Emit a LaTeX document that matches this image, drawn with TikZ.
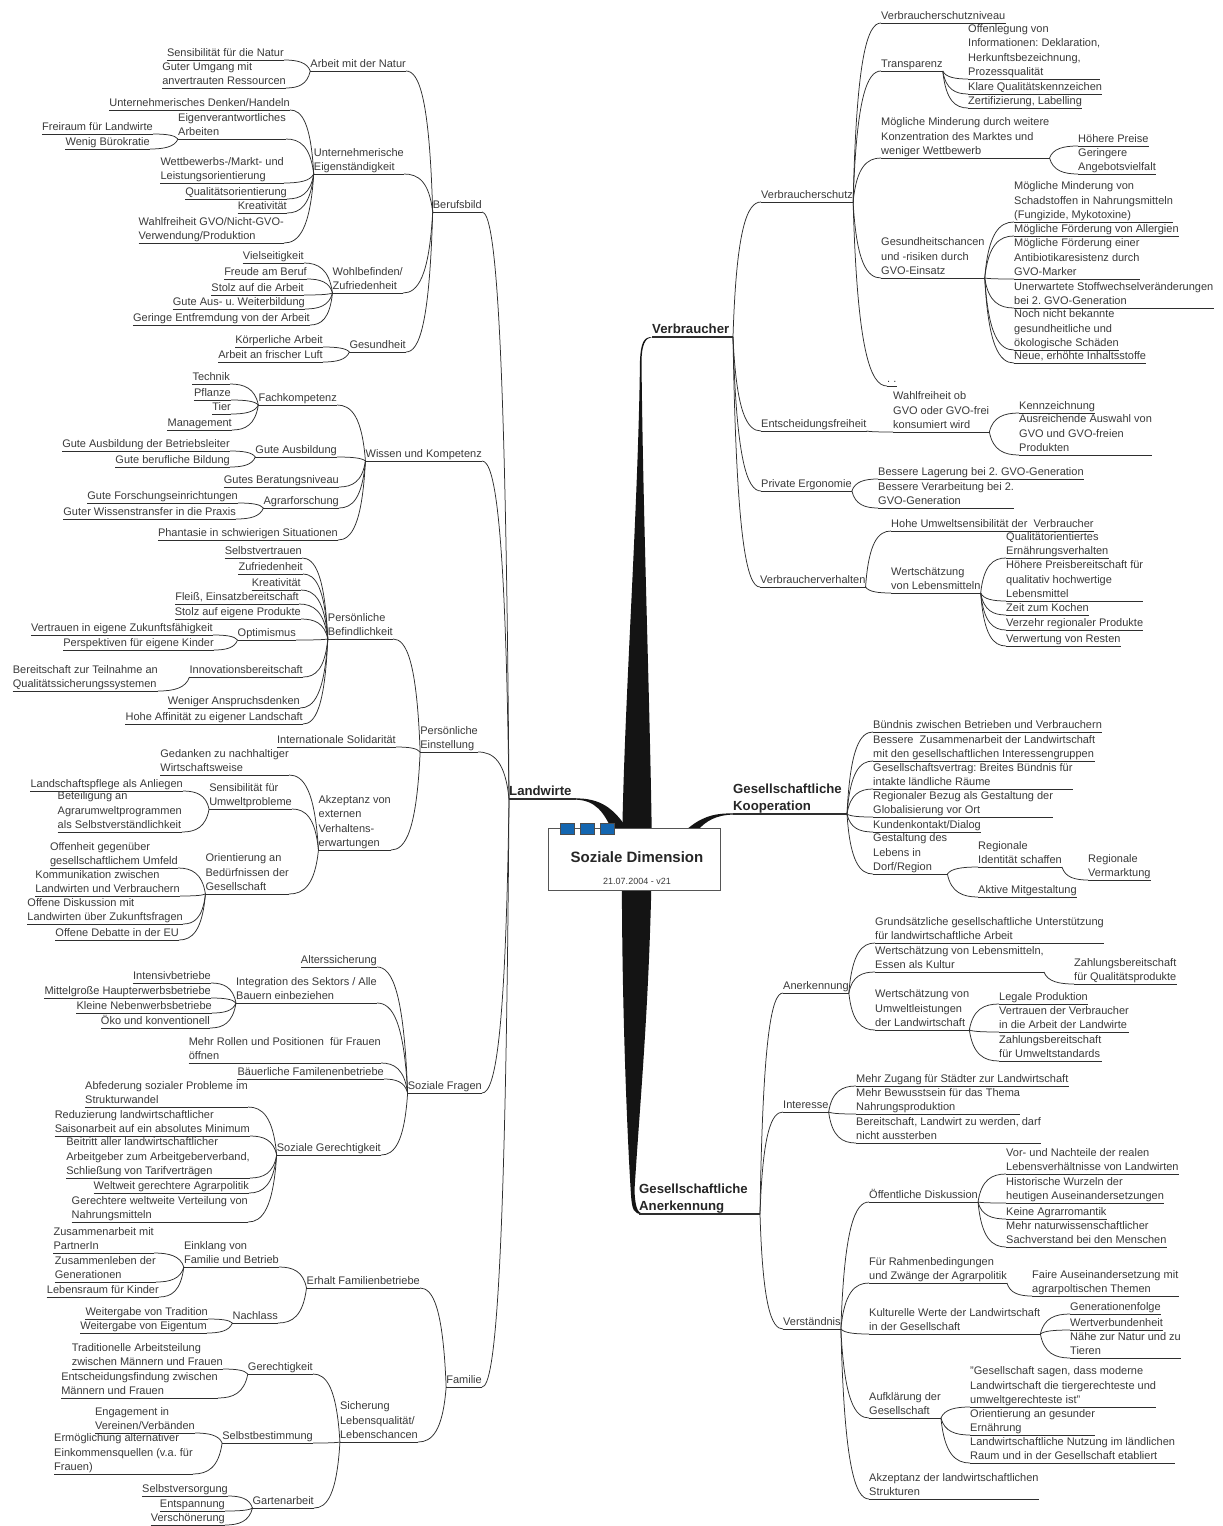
\documentclass[tikz,border=0pt]{standalone}
\usepackage{fontspec}
\setmainfont{Liberation Sans}
\usetikzlibrary{calc}
\frenchspacing
\definecolor{txt}{HTML}{3A3A3A}
\definecolor{lc}{HTML}{2E2E2E}
\definecolor{trunkc}{HTML}{141414}
\definecolor{sqblue}{HTML}{1466B0}
\definecolor{boxc}{HTML}{555555}
\newcommand\mmfont{\fontsize{11}{14.5}\selectfont}
\newcommand\mmmain{\fontsize{13.2}{17.5}\selectfont\bfseries}
\tikzset{
  rn/.style={anchor=south west, align=left, inner sep=0pt, text depth=3pt, font=\mmfont, text=txt},
  ln/.style={rn, anchor=south east},
  mainn/.style={anchor=south west, align=left, inner sep=0pt, text depth=3pt, font=\mmmain, text=black!85},
  uline/.style={draw=lc, line width=0.75pt},
  mline/.style={draw=lc, line width=1.1pt},
  cline/.style={draw=lc, line width=0.75pt},
  trunk/.style={fill=trunkc},
}
% topic with underline, text to the right / left of the anchor point
\newcommand\nR[4]{\node[rn] (#1) at (#2,#3) {#4}; \draw[uline] (#1.south west) -- (#1.south east);}
\newcommand\nL[4]{\node[ln] (#1) at (#2,#3) {#4}; \draw[uline] (#1.south west) -- (#1.south east);}
% curved connector: leaves the parent steeply, arrives level at the child
\newcommand\cc[2]{\draw[cline] let \p1=(#1), \p2=(#2) in (\p1) .. controls ({\x1+0.12*(\x2-\x1)},{\y1+0.8*(\y2-\y1)}) and ({0.5*(\x1+\x2)},\y2) .. (\p2);}
\newcommand\cR[2]{\foreach \ch in {#2} {\cc{#1.south east}{\ch.south west}}}
\newcommand\cL[2]{\foreach \ch in {#2} {\cc{#1.south west}{\ch.south east}}}
\newcommand\cP[2]{\foreach \ch in {#2} {\cc{#1}{\ch}}}

\begin{document}
\begin{tikzpicture}[x=1pt,y=-1pt]
\fill[white] (0,0) rectangle (1223,1526);
\useasboundingbox (0,0) rectangle (1223,1526);

% ---------- central trunk and thick main branches ----------
\fill[trunk] (652,337) .. controls (644,337) and (641,342) .. (640,360)
  .. controls (638,520) and (624,700) .. (622,850)
  .. controls (621,1000) and (628,1150) .. (631,1195)
  .. controls (632,1210) and (634,1214) .. (642,1214)
  .. controls (637,1212) and (635,1205) .. (634.5,1190)
  .. controls (640,1100) and (650,1000) .. (652,850)
  .. controls (650,700) and (643,520) .. (641.5,360)
  .. controls (642,345) and (645,338) .. (652,337) -- cycle;
\fill[trunk] (575,798.4) .. controls (600,798) and (614,808) .. (628,830)
  -- (612,830) .. controls (604,813) and (596,800) .. (575,799.6) -- cycle;
\fill[trunk] (733,813.4) .. controls (712,813) and (700,818) .. (686,830)
  -- (698,830) .. controls (706,821) and (716,815) .. (733,814.6) -- cycle;

% ---------- central topic ----------
\node[draw=boxc, fill=white, line width=0.9pt, minimum width=172pt, minimum height=62pt, inner sep=0pt] (cbox) at (634,859) {};
\foreach \x in {560,580,600} \draw[draw=black!70, fill=sqblue, line width=0.6pt] (\x,823) rectangle ++(14,11);
\node[font=\fontsize{15}{18}\selectfont\bfseries, text=black!85] (ctitle) at (637,857) {Soziale Dimension};
\node[font=\fontsize{9}{11}\selectfont, text=txt] (cdate) at (637,881) {21.07.2004 - v21};

% ---------- main topics ----------
\node[mainn] (lw) at (509,799) {Landwirte};
\draw[mline] (lw.south west) -- (576,799);
\node[mainn] (vb) at (652,337) {Verbraucher};
\coordinate (vbo) at (733,337);
\draw[mline] (vb.south west) -- (vbo);
\node[mainn] (gk) at (733,814) {Gesellschaftliche\\Kooperation};
\coordinate (gko) at (847,814);
\draw[mline] (gk.south west) -- (gko);
\node[mainn] (gan) at (639,1214) {Gesellschaftliche\\Anerkennung};
\coordinate (gano) at (760,1214);
\draw[mline] (gan.south west) -- (gano);

% ================= Landwirte =================
\nL{bb}{482}{212}{Berufsbild}
\nL{amn}{406}{71}{Arbeit mit der Natur}
\nL{snat}{284}{60}{Sensibilität für die Natur}
\nL{gum}{286}{88}{Guter Umgang mit\\anvertrauten Ressourcen}
\nL{ue}{404}{174}{Unternehmerische\\Eigenständigkeit}
\nL{udh}{290}{110}{Unternehmerisches Denken/Handeln}
\nL{eva}{286}{139}{Eigenverantwortliches\\Arbeiten}
\nL{frl}{153}{134}{Freiraum für Landwirte}
\nL{wbk}{150}{149}{Wenig Bürokratie}
\nL{wml}{284}{183}{Wettbewerbs-/Markt- und\\Leistungsorientierung}
\nL{qo}{287}{199}{Qualitätsorientierung}
\nL{kr1}{287}{213}{Kreativität}
\nL{wgvo}{284}{243}{Wahlfreiheit GVO/Nicht-GVO-\\Verwendung/Produktion}
\nL{wz}{403}{293}{Wohlbefinden/\\Zufriedenheit}
\nL{vs}{304}{263}{Vielseitigkeit}
\nL{fab}{307}{279}{Freude am Beruf}
\nL{sada}{304}{295}{Stolz auf die Arbeit}
\nL{gaw}{305}{309}{Gute Aus- u. Weiterbildung}
\nL{gev}{310}{325}{Geringe Entfremdung von der Arbeit}
\nL{ges}{406}{352}{Gesundheit}
\nL{ka}{323}{347}{Körperliche Arbeit}
\nL{afl}{323}{362}{Arbeit an frischer Luft}

\nL{wuk}{482}{461}{Wissen und Kompetenz}
\nL{fk}{337}{405}{Fachkompetenz}
\nL{tech}{230}{384}{Technik}
\nL{pfl}{231}{400}{Pflanze}
\nL{tier}{231}{414}{Tier}
\nL{mgmt}{232}{430}{Management}
\nL{ga}{337}{457}{Gute Ausbildung}
\nL{gab}{230}{451}{Gute Ausbildung der Betriebsleiter}
\nL{gbb}{230}{467}{Gute berufliche Bildung}
\nL{gbn}{339}{487}{Gutes Beratungsniveau}
\nL{af}{339}{508}{Agrarforschung}
\nL{gfe}{238}{503}{Gute Forschungseinrichtungen}
\nL{gwp}{236}{519}{Guter Wissenstransfer in die Praxis}
\nL{phs}{338}{540}{Phantasie in schwierigen Situationen}

\nL{pe}{478}{752}{Persönliche\\Einstellung}
\nL{pbf}{393}{639}{Persönliche\\Befindlichkeit}
\nL{sv}{302}{558}{Selbstvertrauen}
\nL{zuf}{303}{574}{Zufriedenheit}
\nL{kr2}{301}{590}{Kreativität}
\nL{fleiss}{299}{604}{Fleiß, Einsatzbereitschaft}
\nL{sep}{301}{619}{Stolz auf eigene Produkte}
\nL{opt}{296}{640}{Optimismus}
\nL{vez}{213}{635}{Vertrauen in eigene Zukunftsfähigkeit}
\nL{pek}{214}{650}{Perspektiven für eigene Kinder}
\nL{inno}{303}{677}{Innovationsbereitschaft}
\nL{btq}{158}{691}{Bereitschaft zur Teilnahme an\\Qualitätssicherungssystemen}
\nL{wad}{300}{708}{Weniger Anspruchsdenken}
\nL{hal}{303}{724}{Hohe Affinität zu eigener Landschaft}
\nL{isol}{396}{747}{Internationale Solidarität}
\nL{akz}{391}{850}{Akzeptanz von\\externen\\Verhaltens-\\erwartungen}
\nL{gnw}{289}{775}{Gedanken zu nachhaltiger\\Wirtschaftsweise}
\nL{sfu}{292}{809}{Sensibilität für\\Umweltprobleme}
\nL{lpa}{183}{791}{Landschaftspflege als Anliegen}
\nL{bag}{182}{832}{Beteiligung an\\Agrarumweltprogrammen\\als Selbstverständlichkeit}
\nL{obg}{289}{894}{Orientierung an\\Bedürfnissen der\\Gesellschaft}
\nL{ogu}{178}{868}{Offenheit gegenüber\\gesellschaftlichem Umfeld}
\nL{kzl}{180}{896}{Kommunikation zwischen\\Landwirten und Verbrauchern}
\nL{odl}{183}{924}{Offene Diskussion mit\\Landwirten über Zukunftsfragen}
\nL{ode}{179}{940}{Offene Debatte in der EU}

\nL{sf}{482}{1093}{Soziale Fragen}
\nL{alt}{377}{967}{Alterssicherung}
\nL{ids}{377}{1003}{Integration des Sektors / Alle\\Bauern einbeziehen}
\nL{intb}{211}{983}{Intensivbetriebe}
\nL{mhb}{211}{998}{Mittelgroße Haupterwerbsbetriebe}
\nL{knb}{212}{1013}{Kleine Nebenwerbsbetriebe}
\nL{oek}{210}{1028}{Öko und konventionell}
\nL{mrp}{381}{1063}{Mehr Rollen und Positionen~ für Frauen\\öffnen}
\nL{bfb}{384}{1079}{Bäuerliche Familenenbetriebe}
\nL{sg}{381}{1155}{Soziale Gerechtigkeit}
\nL{asp}{248}{1107}{Abfederung sozialer Probleme im\\Strukturwandel}
\nL{rls}{250}{1136}{Reduzierung landwirtschaftlicher\\Saisonarbeit auf ein absolutes Minimum}
\nL{bal}{250}{1178}{Beitritt aller landwirtschaftlicher\\Arbeitgeber zum Arbeitgeberverband,\\Schließung von Tarifverträgen}
\nL{wga}{249}{1193}{Weltweit gerechtere Agrarpolitik}
\nL{gwv}{248}{1222}{Gerechtere weltweite Verteilung von\\Nahrungsmitteln}

\nL{fam}{482}{1387}{Familie}
\nL{efb}{420}{1288}{Erhalt Familienbetriebe}
\nL{evfb}{279}{1267}{Einklang von\\Familie und Betrieb}
\nL{zmp}{154}{1253}{Zusammenarbeit mit\\PartnerIn}
\nL{zdg}{156}{1282}{Zusammenleben der\\Generationen}
\nL{lfk}{159}{1297}{Lebensraum für Kinder}
\nL{nl}{278}{1323}{Nachlass}
\nL{wvt}{208}{1319}{Weitergabe von Tradition}
\nL{wve}{207}{1333}{Weitergabe von Eigentum}
\nL{slq}{418}{1442}{Sicherung\\Lebensqualität/\\Lebenschancen}
\nL{ger}{313}{1374}{Gerechtigkeit}
\nL{tam}{223}{1369}{Traditionelle Arbeitsteilung\\zwischen Männern und Frauen}
\nL{ezm}{218}{1398}{Entscheidungsfindung zwischen\\Männern und Frauen}
\nL{sb}{313}{1443}{Selbstbestimmung}
\nL{eiv}{195}{1433}{Engagement in\\Vereinen/Verbänden}
\nL{eae}{193}{1474}{Ermöglichung alternativer\\Einkommensquellen (v.a. für\\Frauen)}
\nL{ga2}{314}{1508}{Gartenarbeit}
\nL{svs}{228}{1496}{Selbstversorgung}
\nL{ent}{225}{1511}{Entspannung}
\nL{vschoen}{225}{1525}{Verschönerung}

\cL{lw}{bb,wuk,pe,sf,fam}
\cL{bb}{amn,ue,wz,ges}
\cL{amn}{snat,gum}
\cL{ue}{udh,eva,wml,qo,kr1,wgvo}
\cL{eva}{frl,wbk}
\cL{wz}{vs,fab,sada,gaw,gev}
\cL{ges}{ka,afl}
\cL{wuk}{fk,ga,gbn,af,phs}
\cL{fk}{tech,pfl,tier,mgmt}
\cL{ga}{gab,gbb}
\cL{af}{gfe,gwp}
\cL{pe}{pbf,isol,akz}
\cL{pbf}{sv,zuf,kr2,fleiss,sep,opt,inno,wad,hal}
\cL{opt}{vez,pek}
\cL{inno}{btq}
\cL{akz}{gnw,sfu,obg}
\cL{sfu}{lpa,bag}
\cL{obg}{ogu,kzl,odl,ode}
\cL{sf}{alt,ids,mrp,bfb,sg}
\cL{ids}{intb,mhb,knb,oek}
\cL{sg}{asp,rls,bal,wga,gwv}
\cL{fam}{efb,slq}
\cL{efb}{evfb,nl}
\cL{evfb}{zmp,zdg,lfk}
\cL{nl}{wvt,wve}
\cL{slq}{ger,sb,ga2}
\cL{ger}{tam,ezm}
\cL{sb}{eiv,eae}
\cL{ga2}{svs,ent,vschoen}

% ================= Verbraucher =================
\nR{vs1}{761}{202}{Verbraucherschutz}
\nR{vsn}{881}{23}{Verbraucherschutzniveau}
\nR{tr}{881}{71}{Transparenz}
\nR{ovi}{968}{79}{Offenlegung von\\Informationen: Deklaration,\\Herkunftsbezeichnung,\\Prozessqualität}
\nR{kqk}{968}{94}{Klare Qualitätskennzeichen}
\nR{zl}{968}{108}{Zertifizierung, Labelling}
\nR{mmk}{881}{158}{Mögliche Minderung durch weitere\\Konzentration des Marktes und\\weniger Wettbewerb}
\nR{hp}{1078}{146}{Höhere Preise}
\nR{gav}{1078}{174}{Geringere\\Angebotsvielfalt}
\nR{grg}{881}{278}{Gesundheitschancen\\und -risiken durch\\GVO-Einsatz}
\nR{mms}{1014}{222}{Mögliche Minderung von\\Schadstoffen in Nahrungsmitteln\\(Fungizide, Mykotoxine)}
\nR{mfa}{1014}{236}{Mögliche Förderung von Allergien}
\nR{mfar}{1014}{279}{Mögliche Förderung einer\\Antibiotikaresistenz durch\\GVO-Marker}
\nR{usv}{1014}{308}{Unerwartete Stoffwechselveränderungen\\bei 2. GVO-Generation}
\nR{nnb}{1014}{350}{Noch nicht bekannte\\gesundheitliche und\\ökologische Schäden}
\nR{nei}{1014}{363}{Neue, erhöhte Inhaltsstoffe}
\nR{dots}{887}{386}{. .}
\nR{ef}{761}{431}{Entscheidungsfreiheit}
\nR{wgf}{893}{432}{Wahlfreiheit ob\\GVO oder GVO-frei\\konsumiert wird}
\nR{kz}{1019}{413}{Kennzeichnung}
\nR{aag}{1019}{455}{Ausreichende Auswahl von\\GVO und GVO-freien\\Produkten}
\nR{pen}{761}{491}{Private Ergonomie}
\nR{blg}{878}{479}{Bessere Lagerung bei 2. GVO-Generation}
\nR{bvg}{878}{508}{Bessere Verarbeitung bei 2.\\GVO-Generation}
\nR{vv}{760}{587}{Verbraucherverhalten}
\nR{hus}{891}{531}{Hohe Umweltsensibilität der~ Verbraucher}
\nR{wvl}{891}{593}{Wertschätzung\\von Lebensmitteln}
\nR{qoe}{1006}{558}{Qualitätorientiertes\\Ernährungsverhalten}
\nR{hpb}{1006}{601}{Höhere Preisbereitschaft für\\qualitativ hochwertige\\Lebensmittel}
\nR{zzk}{1006}{615}{Zeit zum Kochen}
\nR{vrp}{1006}{630}{Verzehr regionaler Produkte}
\nR{vvr}{1006}{646}{Verwertung von Resten}

\cP{vbo}{vs1.south west,ef.south west,pen.south west,vv.south west}
\cR{vs1}{vsn,tr,mmk,grg,dots}
\cR{tr}{ovi,kqk,zl}
\cR{mmk}{hp,gav}
\cR{grg}{mms,mfa,mfar,usv,nnb,nei}
\cR{ef}{wgf}
\cR{wgf}{kz,aag}
\cR{pen}{blg,bvg}
\cR{vv}{hus,wvl}
\cR{wvl}{qoe,hpb,zzk,vrp,vvr}

% ================= Gesellschaftliche Kooperation =================
\nR{bbv}{873}{732}{Bündnis zwischen Betrieben und Verbrauchern}
\nR{bzl}{873}{761}{Bessere~ Zusammenarbeit der Landwirtschaft\\mit den gesellschaftlichen Interessengruppen}
\nR{gsv}{873}{789}{Gesellschaftsvertrag: Breites Bündnis für\\intakte ländliche Räume}
\nR{rbg}{873}{817}{Regionaler Bezug als Gestaltung der\\Globalisierung vor Ort}
\nR{kkd}{873}{832}{Kundenkontakt/Dialog}
\nR{gdl}{873}{874}{Gestaltung des\\Lebens in\\Dorf/Region}
\nR{ris}{978}{867}{Regionale\\Identität schaffen}
\nR{rvm}{1088}{880}{Regionale\\Vermarktung}
\nR{amg}{978}{897}{Aktive Mitgestaltung}

\cP{gko}{bbv.south west,bzl.south west,gsv.south west,rbg.south west,kkd.south west,gdl.south west}
\cR{gdl}{ris,amg}
\cR{ris}{rvm}

% ================= Gesellschaftliche Anerkennung =================
\nR{ank}{783}{993}{Anerkennung}
\nR{ggu}{875}{943}{Grundsätzliche gesellschaftliche Unterstützung\\für landwirtschaftliche Arbeit}
\nR{wle}{875}{972}{Wertschätzung von Lebensmitteln,\\Essen als Kultur}
\nR{zqp}{1074}{984}{Zahlungsbereitschaft\\für Qualitätsprodukte}
\nR{wul}{875}{1030}{Wertschätzung von\\Umweltleistungen\\der Landwirtschaft}
\nR{lp}{999}{1004}{Legale Produktion}
\nR{vdv}{999}{1032}{Vertrauen der Verbraucher\\in die Arbeit der Landwirte}
\nR{zus}{999}{1061}{Zahlungsbereitschaft\\für Umweltstandards}
\nR{int}{783}{1112}{Interesse}
\nR{mzs}{856}{1086}{Mehr Zugang für Städter zur Landwirtschaft}
\nR{mbt}{856}{1114}{Mehr Bewusstsein für das Thema\\Nahrungsproduktion}
\nR{blw}{856}{1143}{Bereitschaft, Landwirt zu werden, darf\\nicht aussterben}
\nR{vst}{783}{1329}{Verständnis}
\nR{oed}{869}{1202}{Öffentliche Diskussion}
\nR{vnr}{1006}{1174}{Vor- und Nachteile der realen\\Lebensverhältnisse von Landwirten}
\nR{hwa}{1006}{1203}{Historische Wurzeln der\\heutigen Auseinandersetzungen}
\nR{kar}{1006}{1219}{Keine Agrarromantik}
\nR{mns}{1006}{1247}{Mehr naturwissenschaftlicher\\Sachverstand bei den Menschen}
\nR{frz}{869}{1283}{Für Rahmenbedingungen\\und Zwänge der Agrarpolitik}
\nR{fam2}{1032}{1296}{Faire Auseinandersetzung mit\\agrarpoltischen Themen}
\nR{kwl}{869}{1334}{Kulturelle Werte der Landwirtschaft\\in der Gesellschaft}
\nR{gef}{1070}{1314}{Generationenfolge}
\nR{wvb}{1070}{1330}{Wertverbundenheit}
\nR{nnt}{1070}{1358}{Nähe zur Natur und zu\\Tieren}
\nR{adg}{869}{1418}{Aufklärung der\\Gesellschaft}
\nR{gsd}{970}{1407}{"Gesellschaft sagen, dass moderne\\Landwirtschaft die tiergerechteste und\\umweltgerechteste ist"}
\nR{oge}{970}{1435}{Orientierung an gesunder\\Ernährung}
\nR{lnr}{970}{1463}{Landwirtschaftliche Nutzung im ländlichen\\Raum und in der Gesellschaft etabliert}
\nR{adl}{869}{1499}{Akzeptanz der landwirtschaftlichen\\Strukturen}

\cP{gano}{ank.south west,int.south west,vst.south west}
\cR{ank}{ggu,wle,wul}
\cR{wle}{zqp}
\cR{wul}{lp,vdv,zus}
\cR{int}{mzs,mbt,blw}
\cR{vst}{oed,frz,kwl,adg,adl}
\cR{oed}{vnr,hwa,kar,mns}
\cR{frz}{fam2}
\cR{kwl}{gef,wvb,nnt}
\cR{adg}{gsd,oge,lnr}
\end{tikzpicture}
\end{document}
